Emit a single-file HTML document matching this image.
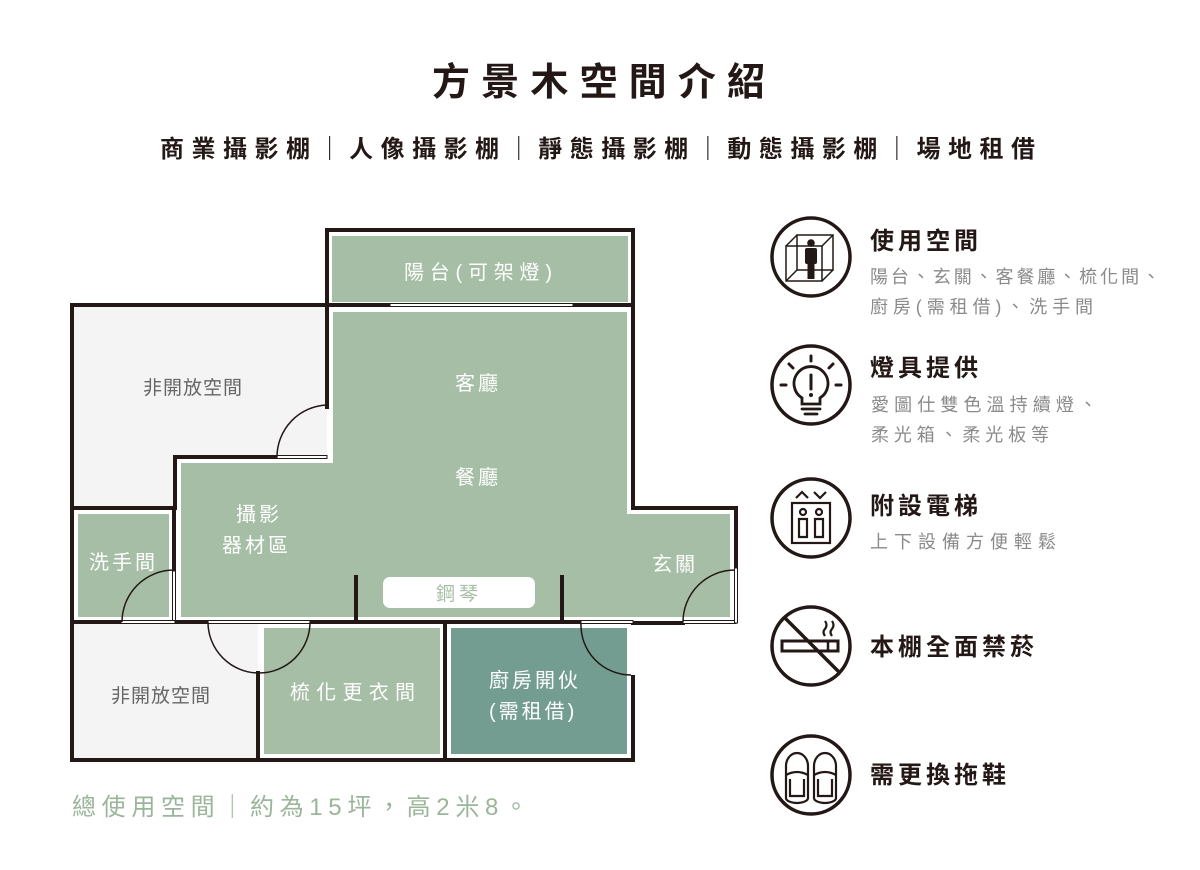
<!DOCTYPE html>
<html><head><meta charset="utf-8"><style>
html,body{margin:0;padding:0;background:#fff;}
svg{display:block;}
text{font-family:"Liberation Sans","Noto Sans CJK TC",sans-serif;}
</style></head><body>
<svg width="1200" height="870" viewBox="0 0 1200 870" xmlns="http://www.w3.org/2000/svg">
<rect width="1200" height="870" fill="#fff"/>
<text x="432" y="95" font-size="38" font-weight="700" fill="#231815" textLength="333" lengthAdjust="spacing">方景木空間介紹</text>
<text x="160" y="157" font-size="24" font-weight="700" fill="#231815" textLength="875" lengthAdjust="spacing">商業攝影棚｜人像攝影棚｜靜態攝影棚｜動態攝影棚｜場地租借</text>

<g>
 <polygon points="72,307 327,307 327,457 175,457 175,508 72,508" fill="#f4f4f4"/>
 <rect x="72" y="622" width="186" height="138" fill="#f4f4f4"/>
 <rect x="327" y="230" width="306" height="77" fill="#fff"/>
 <rect x="332" y="236" width="296" height="66" fill="#a6bea5"/>
 <polygon points="175,457 327,457 327,307 633,307 633,508 736,508 736,623 175,623" fill="#fff"/>
 <polygon points="181,463 333,463 333,312 627,312 627,514 730,514 730,617 181,617" fill="#a6bea5"/>
 <rect x="72" y="508" width="102" height="115" fill="#fff"/>
 <rect x="78" y="514" width="91" height="103" fill="#a6bea5"/>
 <rect x="258" y="622" width="187" height="138" fill="#fff"/>
 <rect x="264" y="628" width="176" height="126" fill="#a6bea5"/>
 <rect x="445" y="622" width="188" height="138" fill="#fff"/>
 <rect x="451" y="628" width="176" height="126" fill="#739d90"/>
 <g stroke="#231815" stroke-width="4" fill="none" stroke-linecap="square">
  <polyline points="327,305 327,230 633,230 633,508 736,508 736,568"/>
  <polyline points="327,305 72,305 72,760 633,760 633,677"/>
  <line x1="633" y1="623" x2="683" y2="623"/>
  <line x1="327" y1="305" x2="390" y2="305"/>
  <line x1="573" y1="305" x2="633" y2="305"/>
  <polyline points="327,305 327,407"/>
  <polyline points="277,457 175,457 175,508"/>
  <line x1="72" y1="508" x2="175" y2="508"/>
  <line x1="174" y1="508" x2="174" y2="571"/>
  <line x1="72" y1="622" x2="121" y2="622"/>
  <line x1="175" y1="622" x2="208" y2="622"/>
  <line x1="310" y1="622" x2="581" y2="622"/>
  <line x1="258" y1="673" x2="258" y2="760"/>
  <line x1="445" y1="622" x2="445" y2="760"/>
  <line x1="356" y1="577" x2="356" y2="622"/>
  <line x1="562" y1="577" x2="562" y2="622"/>
 </g>
 <g stroke="#231815" stroke-width="1" fill="#fff">
  <rect x="390" y="303.5" width="183" height="3"/>
  <rect x="277" y="455.5" width="50" height="3"/>
  <rect x="172.5" y="571" width="3" height="51"/>
  <rect x="121" y="620.5" width="54" height="3"/>
  <rect x="208" y="620.5" width="102" height="3"/>
  <rect x="581" y="620.5" width="52" height="3"/>
  <rect x="683" y="620.5" width="53" height="3"/>
  <rect x="734.5" y="568" width="3" height="55"/>
 </g>
 <g stroke="#231815" stroke-width="1.5" fill="none">
  <path d="M327,405 A52,52 0 0 0 277,457"/>
  <path d="M174,570 A52,52 0 0 0 122,622"/>
  <path d="M208,622 A51,51 0 0 0 310,622"/>
  <path d="M581,623 A50,50 0 0 0 631,675"/>
  <path d="M735,570 A52,52 0 0 0 683,622"/>
 </g>
 <rect x="383" y="577" width="152" height="31" rx="7" fill="#fff"/>
 <text x="459" y="600" font-size="19" fill="#a6bea5" text-anchor="middle" letter-spacing="4">鋼琴</text>
 <g font-size="20" fill="#fff" letter-spacing="3">
  <text x="404" y="279" textLength="151" lengthAdjust="spacing">陽台(可架燈)</text>
  <text x="455" y="390">客廳</text>
  <text x="455" y="484">餐廳</text>
  <text x="236" y="521">攝影</text>
  <text x="222" y="552">器材區</text>
  <text x="89" y="569">洗手間</text>
  <text x="652" y="571">玄關</text>
  <text x="290" y="699" textLength="128" lengthAdjust="spacing">梳化更衣間</text>
  <text x="489" y="687">廚房開伙</text>
  <text x="489" y="718">(需租借)</text>
 </g>
 <g font-size="19" fill="#666" letter-spacing="1">
  <text x="143" y="394">非開放空間</text>
  <text x="111" y="702">非開放空間</text>
 </g>
</g>

<text x="72" y="815" font-size="24" fill="#9ab59a" textLength="456" lengthAdjust="spacing">總使用空間｜約為15坪，高2米8。</text>

<g stroke="#231815" stroke-width="3.5" fill="none">
 <circle cx="811" cy="257" r="39"/>
 <circle cx="811" cy="385" r="39"/>
 <circle cx="811" cy="518" r="39"/>
 <circle cx="811" cy="646" r="39"/>
 <circle cx="811" cy="775" r="39"/>
</g>
<!-- cube person -->
<g stroke="#231815" stroke-width="1.5" fill="none">
 <rect x="786" y="246" width="36" height="35"/>
 <rect x="797" y="235" width="36" height="35"/>
 <line x1="786" y1="246" x2="797" y2="235"/><line x1="822" y1="246" x2="833" y2="235"/>
 <line x1="786" y1="281" x2="797" y2="270"/><line x1="822" y1="281" x2="833" y2="270"/>
</g>
<circle cx="811" cy="243" r="3.8" fill="#231815"/>
<rect x="805" y="248" width="12" height="16" rx="2" fill="#231815"/>
<rect x="807.5" y="262" width="7" height="17" fill="#231815"/>
<!-- bulb -->
<g stroke="#231815" stroke-width="3" fill="none" stroke-linecap="round">
 <path d="M802,404 L802,398 A17,17 0 1 1 820,398 L820,404 Z" stroke-width="2.8"/>
 <line x1="802" y1="409" x2="820" y2="409" stroke-width="2.8"/>
 <line x1="805" y1="414" x2="817" y2="414" stroke-width="2.8"/>
 <line x1="811" y1="375" x2="811" y2="389"/>
 <line x1="811" y1="356" x2="811" y2="361"/>
 <line x1="789" y1="364" x2="793" y2="368"/><line x1="833" y1="364" x2="829" y2="368"/>
 <line x1="781" y1="385" x2="786" y2="385"/><line x1="836" y1="385" x2="841" y2="385"/>
</g>
<circle cx="811" cy="395" r="2" fill="#231815"/>
<!-- elevator -->
<g stroke="#231815" stroke-width="2.2" fill="none">
 <rect x="792" y="503" width="38" height="40"/>
 <polyline points="796,498 802,492 808,498"/><polyline points="814,492 820,498 826,492"/>
 <circle cx="803" cy="512" r="3"/><circle cx="819" cy="512" r="3"/>
 <path d="M799,537 V519 H807 V537 Z"/><path d="M815,537 V519 H823 V537 Z"/>
</g>
<!-- no smoking -->
<g stroke="#231815" fill="none">
 <rect x="782" y="641" width="56" height="10" stroke-width="3"/>
 <line x1="828" y1="641" x2="828" y2="651" stroke-width="2.5"/>
 <path d="M825,636 q-3,-4 0,-7 q3,-4 0,-8" stroke-width="2.2"/>
 <path d="M832,636 q-3,-4 0,-7 q3,-4 0,-8" stroke-width="2.2"/>
 <line x1="785" y1="618" x2="840" y2="673" stroke-width="3.5"/>
</g>
<!-- slippers -->
<g stroke="#231815" stroke-width="2.2" fill="none">
 <path d="M786,798 V766 A11,13 0 0 1 808,766 V798 A11,5 0 0 1 786,798 Z"/>
 <path d="M814,798 V766 A11,13 0 0 1 836,766 V798 A11,5 0 0 1 814,798 Z"/>
 <path d="M786,775 Q797,769 808,775"/><path d="M814,775 Q825,769 836,775"/>
 <path d="M790,779 V796 H804 V779"/><path d="M818,779 V796 H832 V779"/>
</g>

<g font-size="24" font-weight="700" fill="#231815" letter-spacing="4">
 <text x="870" y="249">使用空間</text>
 <text x="870" y="376">燈具提供</text>
 <text x="870" y="514">附設電梯</text>
 <text x="870" y="655">本棚全面禁菸</text>
 <text x="870" y="783">需更換拖鞋</text>
</g>
<g font-size="18" fill="#8a8a8a">
 <text x="870" y="283" textLength="290" lengthAdjust="spacing">陽台、玄關、客餐廳、梳化間、</text>
 <text x="870" y="313" textLength="223" lengthAdjust="spacing">廚房(需租借)、洗手間</text>
 <text x="871" y="411" textLength="226" lengthAdjust="spacing">愛圖仕雙色溫持續燈、</text>
 <text x="871" y="441" textLength="178" lengthAdjust="spacing">柔光箱、柔光板等</text>
 <text x="870" y="548" textLength="186" lengthAdjust="spacing">上下設備方便輕鬆</text>
</g>
</svg>
</body></html>
